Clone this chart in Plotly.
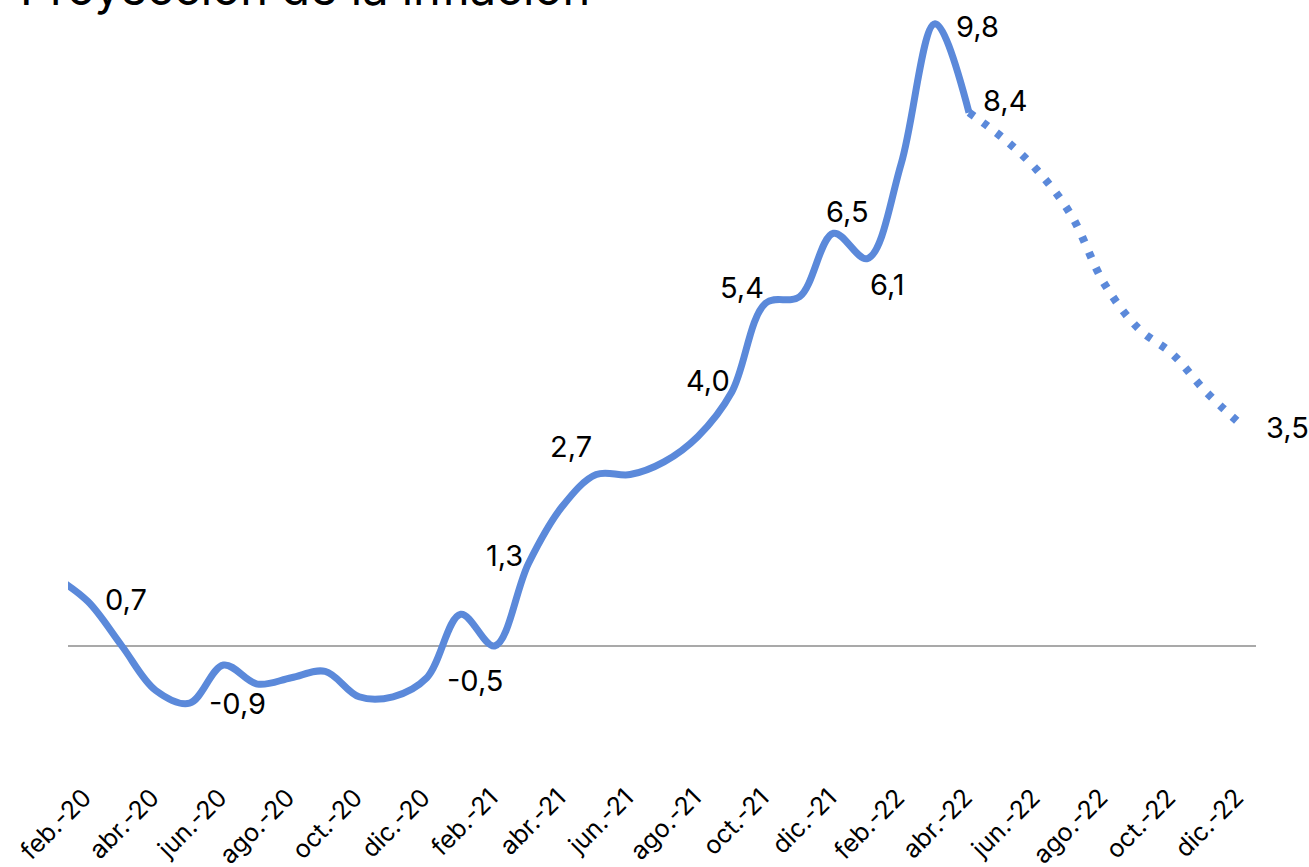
import plotly.graph_objects as go

# ---------------- data ----------------
months = [
    "ene.-20", "feb.-20", "mar.-20", "abr.-20", "may.-20", "jun.-20", "jul.-20", "ago.-20",
    "sep.-20", "oct.-20", "nov.-20", "dic.-20",
    "ene.-21", "feb.-21", "mar.-21", "abr.-21", "may.-21", "jun.-21", "jul.-21", "ago.-21",
    "sep.-21", "oct.-21", "nov.-21", "dic.-21",
    "ene.-22", "feb.-22", "mar.-22", "abr.-22", "may.-22", "jun.-22", "jul.-22", "ago.-22",
    "sep.-22", "oct.-22", "nov.-22", "dic.-22",
]
actual_months = months[0:28]
actual_values = [1.1, 0.7, 0.0, -0.7, -0.9, -0.3, -0.6, -0.5, -0.4, -0.8, -0.8, -0.5,
                 0.5, 0.0, 1.3, 2.2, 2.7, 2.7, 2.9, 3.3, 4.0, 5.4, 5.5, 6.5,
                 6.1, 7.6, 9.8, 8.4]
proj_months = months[27:36]
proj_values = [8.4, 8.0, 7.5, 6.8, 5.7, 5.0, 4.6, 4.0, 3.5]

tick_months = months[1::2]

labelled_actual = ["feb.-20", "may.-20", "dic.-20", "mar.-21", "may.-21", "sep.-21",
                   "oct.-21", "dic.-21", "ene.-22", "mar.-22", "abr.-22"]
labelled_proj = ["dic.-22"]

title_text = "Proyección de la inflación"

# ---------------- style ----------------
BLUE = "#5b89da"
FONT = "Inter"
# label placement: (xanchor, xshift, yshift)
label_style = {
    "feb.-20": ("left", 15, 2),
    "may.-20": ("left", 17, 0),
    "dic.-20": ("left", 18, -3),
    "mar.-21": ("right", -3, 8),
    "may.-21": ("center", -25, 28),
    "sep.-21": ("right", 0, 12),
    "oct.-21": ("right", 0, 16),
    "dic.-21": ("center", 14, 22),
    "ene.-22": ("left", 1, -26),
    "mar.-22": ("left", 19, -3),
    "abr.-22": ("left", 12, 12),
    "dic.-22": ("left", 24, -4),
}

fig = go.Figure()
fig.add_trace(go.Scatter(
    x=actual_months, y=actual_values, mode="lines",
    line=dict(color=BLUE, width=7, shape="spline", smoothing=1.0),
    hoverinfo="skip", showlegend=False,
))
fig.add_trace(go.Scatter(
    x=proj_months, y=proj_values, mode="lines",
    line=dict(color=BLUE, width=8, shape="spline", smoothing=1.0, dash="6px,11px"),
    hoverinfo="skip", showlegend=False,
))

def fmt(v):
    return f"{v:.1f}".replace(".", ",")

annotations = []
for m in labelled_actual:
    v = actual_values[actual_months.index(m)]
    xa, xs, ys = label_style[m]
    annotations.append(dict(x=m, y=v, xref="x", yref="y", text=fmt(v), showarrow=False,
                            xanchor=xa, yanchor="middle", xshift=xs, yshift=ys,
                            font=dict(family=FONT, size=29, color="black")))
for m in labelled_proj:
    v = proj_values[proj_months.index(m)]
    xa, xs, ys = label_style[m]
    annotations.append(dict(x=m, y=v, xref="x", yref="y", text=fmt(v), showarrow=False,
                            xanchor=xa, yanchor="middle", xshift=xs, yshift=ys,
                            font=dict(family=FONT, size=29, color="black")))

annotations.append(dict(x=0, y=1, xref="paper", yref="paper", text=title_text,
                        showarrow=False, xanchor="left", yanchor="middle",
                        xshift=-50, yshift=24,
                        font=dict(family=FONT, size=47, color="black")))

fig.update_layout(
    width=1309, height=867,
    margin=dict(l=68, r=53, t=11, b=94),
    paper_bgcolor="white", plot_bgcolor="white",
    annotations=annotations,
    xaxis=dict(
        type="category", categoryorder="array", categoryarray=months,
        range=[0.41, 35.47], automargin=False,
        tickmode="array", tickvals=tick_months, ticktext=tick_months,
        tickangle=-45, showgrid=False, showline=False, zeroline=False,
        ticks="", ticklabelshift=-4, ticklabelstandoff=4,
        tickfont=dict(family=FONT, size=25, color="black"),
    ),
    yaxis=dict(
        range=[-2, 10], showgrid=False, showticklabels=False, ticks="",
        automargin=False,
        zeroline=True, zerolinecolor="#a9a9a9", zerolinewidth=1.5, showline=False,
    ),
)

fig.write_html("out.html")
